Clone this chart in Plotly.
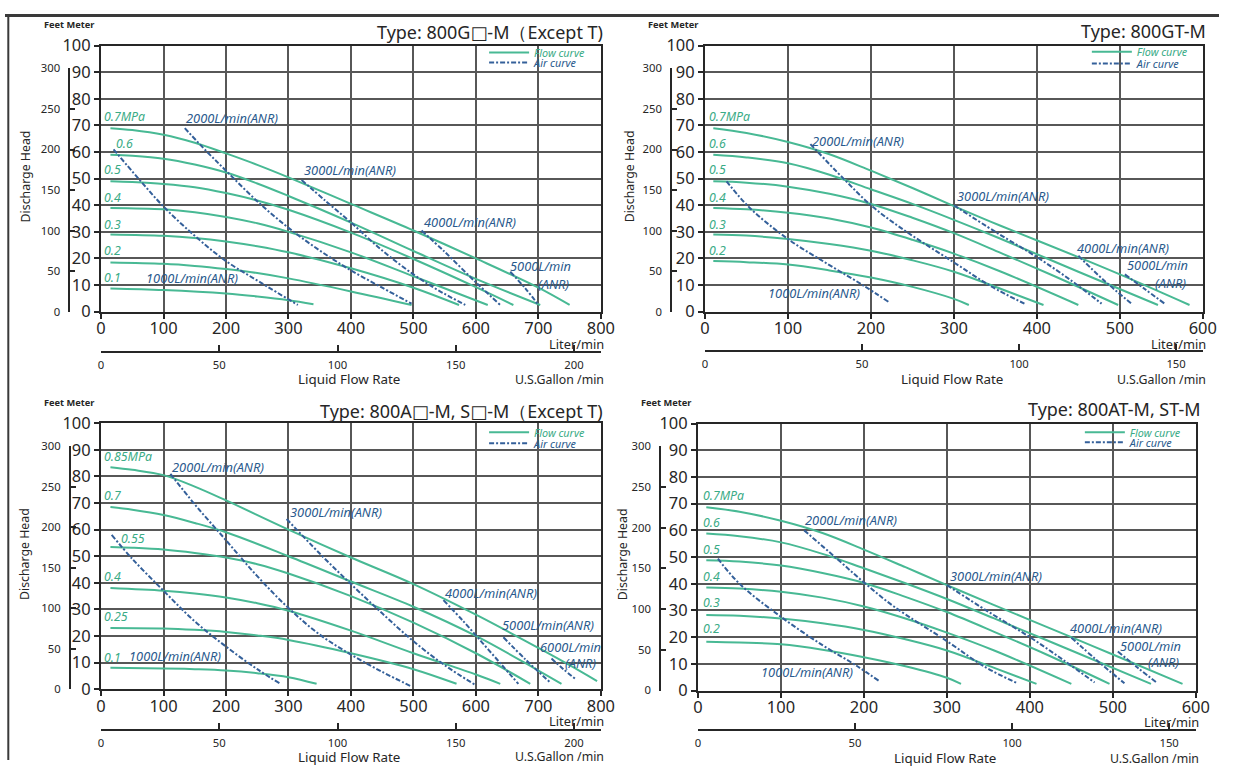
import plotly.graph_objects as go

W, H = 1233, 771
L_PER_GAL = 3.78541
M_TO_FT = 3.28084

# ======================= DATA =======================
# ---- Panel 1: Type: 800G□-M (Except T) ----
p1_title = "Type: 800G□-M（Except T)"
p1_x_ticks = [0, 100, 200, 300, 400, 500, 600, 700, 800]
p1_gal_ticks = [0, 50, 100, 150, 200]
p1_flow_names = ["0.7MPa", "0.6", "0.5", "0.4", "0.3", "0.2", "0.1"]
p1_flow_L = [
    [15, 50, 100, 150, 200, 250, 300, 400, 500, 600, 700, 750],
    [15, 50, 100, 150, 200, 250, 300, 400, 500, 600, 703],
    [15, 50, 100, 150, 200, 250, 300, 400, 500, 600, 660],
    [15, 100, 150, 200, 250, 300, 400, 500, 619],
    [15, 100, 150, 200, 250, 300, 400, 500, 573],
    [15, 100, 150, 200, 250, 300, 400, 497],
    [15, 100, 200, 250, 300, 340],
]
p1_flow_H = [
    [69, 68.3, 66.5, 63.5, 59.5, 55.2, 50.5, 40.5, 30.5, 20, 9, 2.5],
    [59, 58.6, 57.5, 55.3, 52.3, 48.2, 43.5, 33.5, 22.8, 12.3, 2.5],
    [49, 48.7, 48, 46.8, 44.6, 41.8, 38.3, 29.7, 19.8, 9.2, 2.5],
    [39, 38.5, 37.4, 35.6, 33.2, 30, 22.3, 13.3, 2.5],
    [29, 28.5, 27.7, 26.4, 24.6, 22.3, 16.3, 9, 2.5],
    [18.5, 18, 17.2, 16, 14.5, 12.5, 7.6, 2.5],
    [8.7, 8.1, 6.8, 5.7, 4.3, 2.8],
]
p1_air_names = ["1000L/min(ANR)", "2000L/min(ANR)", "3000L/min(ANR)", "4000L/min(ANR)", "5000L/min", "(ANR)"]
p1_air_L = [
    [20, 60, 100, 150, 200, 255, 315],
    [134, 170, 200, 250, 300, 350, 400, 450, 497],
    [321, 360, 400, 450, 500, 540, 583],
    [513, 550, 600, 639],
    [655, 680, 700],
]
p1_air_H = [
    [61, 50, 39.5, 28.5, 19, 11, 2.5],
    [69, 60, 53, 41.5, 31.5, 23, 15.5, 9, 3],
    [49.5, 41.5, 33.5, 23, 14, 8, 2.5],
    [30.5, 22.5, 11, 2.5],
    [15, 8.5, 2.5],
]

# ---- Panel 2: Type: 800GT-M ----
p2_title = "Type: 800GT-M"
p2_x_ticks = [0, 100, 200, 300, 400, 500, 600]
p2_gal_ticks = [0, 50, 100, 150]
p2_flow_names = ["0.7MPa", "0.6", "0.5", "0.4", "0.3", "0.2"]
p2_flow_L = [
    [10, 50, 100, 150, 200, 250, 300, 357, 450, 500, 584],
    [10, 50, 100, 150, 200, 250, 300, 357, 450, 546],
    [10, 50, 100, 150, 200, 250, 300, 357, 420, 498],
    [10, 50, 100, 150, 200, 250, 300, 357, 450],
    [10, 50, 100, 150, 200, 250, 300, 357, 408],
    [10, 50, 100, 150, 200, 250, 300, 318],
]
p2_flow_H = [
    [69, 67.2, 63.8, 59.2, 53, 46.5, 39.7, 32.2, 20.5, 14, 2.5],
    [59, 58, 55.8, 51.5, 46, 40.5, 34.5, 27.3, 15, 2.5],
    [49, 48.5, 47, 44.3, 40.5, 35.3, 29.5, 22, 13.5, 2.5],
    [39, 38.5, 37.2, 35, 31.6, 27, 21.8, 15, 2.5],
    [29, 28.6, 27.3, 25.4, 22.9, 19.3, 15, 8.5, 2.5],
    [19, 18.6, 17.7, 15.5, 12.8, 9.3, 4.8, 2.5],
]
p2_air_names = ["1000L/min(ANR)", "2000L/min(ANR)", "3000L/min(ANR)", "4000L/min(ANR)", "5000L/min", "(ANR)"]
p2_air_L = [
    [26, 54, 100, 150, 190, 221],
    [127, 167, 200, 236, 300, 345, 385],
    [300, 350, 400, 440, 478],
    [450, 480, 514],
    [506, 530, 554],
]
p2_air_H = [
    [49, 39, 27.3, 17.5, 10, 3.7],
    [63, 50, 40, 31.5, 18.5, 9.5, 3],
    [40, 30, 20.5, 12, 3],
    [21, 12, 3],
    [14, 8.5, 3],
]

# ---- Panel 3: Type: 800A□-M, S□-M (Except T) ----
p3_title = "Type: 800A□-M, S□-M（Except T)"
p3_x_ticks = [0, 100, 200, 300, 400, 500, 600, 700, 800]
p3_gal_ticks = [0, 50, 100, 150, 200]
p3_flow_names = ["0.85MPa", "0.7", "0.55", "0.4", "0.25", "0.1"]
p3_flow_L = [
    [15, 50, 100, 150, 200, 300, 400, 500, 600, 700, 750, 794],
    [15, 50, 100, 150, 200, 300, 400, 500, 600, 700, 737],
    [15, 50, 100, 150, 200, 250, 300, 400, 500, 600, 687],
    [15, 100, 150, 200, 250, 300, 400, 500, 600, 639],
    [15, 100, 150, 200, 250, 300, 400, 500, 569],
    [15, 100, 150, 200, 250, 300, 345],
]
p3_flow_H = [
    [83.5, 82.5, 80.5, 76.2, 71, 60, 49.5, 39.5, 28, 15.5, 9, 3],
    [68.5, 67.5, 65.5, 62.5, 59, 50, 40.5, 31, 20, 7, 2],
    [53.5, 53.2, 52.5, 51.2, 49.5, 47, 43.5, 35, 25, 13.5, 2],
    [38, 37, 36, 34.5, 32.3, 29.5, 22, 13.5, 5.5, 2],
    [23, 22.8, 22.3, 21.5, 20.2, 18.5, 13.5, 7.5, 2],
    [8, 7.8, 7.5, 7, 6, 4.5, 2],
]
p3_air_names = ["1000L/min(ANR)", "2000L/min(ANR)", "3000L/min(ANR)", "4000L/min(ANR)",
                "5000L/min(ANR)", "6000L/min", "(ANR)"]
p3_air_L = [
    [17, 50, 100, 150, 200, 250, 287],
    [111, 150, 200, 250, 300, 350, 400, 450, 497],
    [297, 350, 400, 450, 500, 550, 599],
    [548, 580, 610, 640, 668],
    [644, 680, 719],
    [721, 740, 761],
]
p3_air_H = [
    [58, 49, 37, 25.5, 16, 7.5, 2],
    [81, 69.5, 56, 42.5, 30.5, 20.5, 13, 6.5, 1],
    [64, 51, 39.5, 28.5, 18, 9, 1.6],
    [33.5, 25.5, 17.5, 9.5, 2],
    [19.5, 11, 2.5],
    [11.5, 7.5, 3.5],
]

# ---- Panel 4: Type: 800AT-M, ST-M ----
p4_title = "Type: 800AT-M, ST-M"
p4_x_ticks = [0, 100, 200, 300, 400, 500, 600]
p4_gal_ticks = [0, 50, 100, 150]
p4_flow_names = ["0.7MPa", "0.6", "0.5", "0.4", "0.3", "0.2"]
p4_flow_L = [
    [10, 50, 100, 150, 200, 250, 300, 357, 450, 500, 584],
    [10, 50, 100, 150, 200, 250, 300, 357, 450, 546],
    [10, 50, 100, 150, 200, 250, 300, 357, 420, 496],
    [10, 50, 100, 150, 200, 250, 300, 357, 450],
    [10, 50, 100, 150, 200, 250, 300, 357, 408],
    [10, 50, 100, 150, 200, 250, 300, 317],
]
p4_flow_H = [
    [68.7, 67, 63.6, 59, 52.8, 46.2, 39.5, 32, 20, 13.5, 2.5],
    [58.8, 57.8, 55.5, 51.2, 45.8, 40.2, 34.3, 27, 15, 2.5],
    [48.8, 48.3, 46.8, 44, 40.3, 35.1, 29.4, 22, 13.5, 2.5],
    [38.6, 38.2, 37, 34.8, 31.5, 27, 21.7, 15, 2.5],
    [28.3, 28, 27, 25.2, 22.7, 19.2, 15, 8.5, 2.5],
    [18.3, 18, 17.3, 15.3, 12.5, 9.1, 4.8, 2.5],
]
p4_air_names = ["1000L/min(ANR)", "2000L/min(ANR)", "3000L/min(ANR)", "4000L/min(ANR)", "5000L/min", "(ANR)"]
p4_air_L = [
    [24, 50, 100, 150, 190, 219],
    [128, 167, 200, 236, 300, 345, 385],
    [300, 350, 400, 440, 478],
    [450, 480, 514],
    [506, 530, 554],
]
p4_air_H = [
    [49.4, 40, 27.6, 17, 9.5, 3.4],
    [60, 49.5, 40.5, 31.5, 18.5, 9, 2.7],
    [39.5, 29.5, 20, 11.5, 3],
    [19.8, 11.5, 2.7],
    [14.6, 8.5, 2.7],
]

# ======================= LABEL PLACEMENT (data coords) =======================
p1_flow_lbl_pos = [(1, 73.4), (20, 63.4), (1, 53.4), (1, 42.8), (1, 32.8), (1, 22.8), (1, 12.8)]
p1_air_lbl_pos = [(68, 12.8, "left"), (132, 72.8, "left"), (321, 53.4, "left"),
                  (513, 33.8, "left"), (652, 17.1, "left"), (753, 10.5, "right")]
p2_flow_lbl_pos = [(3, 73.4), (3, 63.4), (3, 53.4), (3, 42.8), (3, 32.8), (3, 22.8)]
p2_air_lbl_pos = [(74, 7.1, "left"), (126, 64.3, "left"), (301, 43.4, "left"),
                  (446, 24, "left"), (506, 17.4, "left"), (582, 10.9, "right")]
p3_flow_lbl_pos = [(1, 87.5), (1, 72.9), (28, 56.6), (1, 42.3), (1, 27.3), (1, 12)]
p3_air_lbl_pos = [(41, 12.3, "left"), (111, 83.5, "left"), (300, 66.6, "left"),
                  (548, 36, "left"), (639, 24.1, "left"), (700, 16, "left"), (796, 9.8, "right")]
p4_flow_lbl_pos = [(3, 73.1), (3, 63.1), (3, 52.8), (3, 42.8), (3, 32.9), (3, 23.3)]
p4_air_lbl_pos = [(74, 7.1, "left"), (126, 64, "left"), (301, 42.8, "left"),
                  (446, 23.3, "left"), (506, 16.7, "left"), (582, 10.5, "right")]

# ======================= STYLE / GEOMETRY =======================
FONT = "Noto Sans, DejaVu Sans, Liberation Sans, sans-serif"
GREEN = "#48b994"
GREEN_TXT = "#3aab86"
BLUE = "#34609a"
BLUE_TXT = "#2a5a8d"
GRID = "#575757"
INK = "#262626"

# the photographed page maps figure px -> picture px as  p = C0 + S * f ; geometry below is
# given in picture pixels and converted back to figure paper fractions.
CX0, CSX = 4.7, 0.985
CY0, CSY = 10.2, 0.973

panels = [
    dict(x0=100.8, x1=600.8, yt=44.0, yb=310.7, xmax=800, feet_x=69, gal_y=350.7,
         title=p1_title, title_r=605, title_y=30, leg=(484, 50.7, 60.7),
         xt=p1_x_ticks, gt=p1_gal_ticks,
         fL=p1_flow_L, fH=p1_flow_H, fn=p1_flow_names, fpos=p1_flow_lbl_pos,
         aL=p1_air_L, aH=p1_air_H, an=p1_air_names, apos=p1_air_lbl_pos),
    dict(x0=705.0, x1=1203.0, yt=44.0, yb=310.7, xmax=600, feet_x=671, gal_y=350.0,
         title=p2_title, title_r=1208, title_y=29, leg=(1087, 50.0, 61.7),
         xt=p2_x_ticks, gt=p2_gal_ticks,
         fL=p2_flow_L, fH=p2_flow_H, fn=p2_flow_names, fpos=p2_flow_lbl_pos,
         aL=p2_air_L, aH=p2_air_H, an=p2_air_names, apos=p2_air_lbl_pos),
    dict(x0=100.8, x1=600.8, yt=422.7, yb=689.3, xmax=800, feet_x=69.5, gal_y=730.0,
         title=p3_title, title_r=605, title_y=410.5, leg=(484, 431.7, 442.7),
         xt=p3_x_ticks, gt=p3_gal_ticks,
         fL=p3_flow_L, fH=p3_flow_H, fn=p3_flow_names, fpos=p3_flow_lbl_pos,
         aL=p3_air_L, aH=p3_air_H, an=p3_air_names, apos=p3_air_lbl_pos),
    dict(x0=698.0, x1=1196.0, yt=423.0, yb=690.7, xmax=600, feet_x=660, gal_y=730.0,
         title=p4_title, title_r=1203, title_y=408.5, leg=(1080, 431.7, 441.7),
         xt=p4_x_ticks, gt=p4_gal_ticks,
         fL=p4_flow_L, fH=p4_flow_H, fn=p4_flow_names, fpos=p4_flow_lbl_pos,
         aL=p4_air_L, aH=p4_air_H, an=p4_air_names, apos=p4_air_lbl_pos),
]


def px(xp):
    return ((xp - CX0) / CSX) / W


def py(yp):
    return 1 - ((yp - CY0) / CSY) / H


def fsz(v):
    return v / CSY


fig = go.Figure()
layout = {}
annotations = []
y_ticks = list(range(0, 101, 10))
ft_ticks = [0, 50, 100, 150, 200, 250, 300]

for i, p in enumerate(panels):
    s = "" if i == 0 else str(i + 1)
    xs, ys = "x" + s, "y" + s
    fs = str(i + 5)
    leg_f = "legend" if i == 0 else "legend" + str(2 * i + 1)
    leg_a = "legend" + str(2 * i + 2)

    xdom = [px(p["x0"]), px(p["x1"])]
    ydom = [py(p["yb"]), py(p["yt"])]

    axis_common = dict(showgrid=True, gridcolor=GRID, gridwidth=1.9, showline=True, mirror=True,
                       linecolor=INK, linewidth=2.2, ticks="outside", ticklen=5, tickwidth=1.8,
                       tickcolor=INK, zeroline=False, fixedrange=True,
                       tickfont=dict(family=FONT, size=fsz(16), color=INK))
    layout["xaxis" + s] = dict(domain=xdom, range=[0, p["xmax"]], anchor=ys,
                               tickvals=p["xt"], ticklabelstandoff=-4, **axis_common)
    layout["yaxis" + s] = dict(domain=ydom, range=[0, 100], anchor=xs,
                               tickvals=y_ticks, **axis_common)

    # feet axis (bracket 0..300 ft)
    frac = 300.0 / (100 * M_TO_FT)
    layout["yaxis" + fs] = dict(domain=[ydom[0], ydom[0] + (ydom[1] - ydom[0]) * frac],
                                range=[0, 300], anchor="free", position=px(p["feet_x"]),
                                tickvals=ft_ticks, ticks="inside", ticklen=5, tickwidth=1.5,
                                tickcolor=INK, showline=True, linecolor=INK, linewidth=1.6,
                                showgrid=False, zeroline=False, fixedrange=True,
                                ticklabelstandoff=6,
                                tickfont=dict(family=FONT, size=fsz(11), color=INK))
    # gallon axis
    layout["xaxis" + fs] = dict(domain=xdom, range=[0, p["xmax"] / L_PER_GAL], anchor="free",
                                position=py(p["gal_y"]), tickvals=p["gt"], ticks="inside",
                                ticklen=6, tickwidth=1.5, tickcolor=INK, showline=True,
                                linecolor=INK, linewidth=1.6, showgrid=False, zeroline=False,
                                fixedrange=True, ticklabelstandoff=3,
                                tickfont=dict(family=FONT, size=fsz(11), color=INK))
    fig.add_trace(go.Scatter(x=[None], y=[None], xaxis="x" + fs, yaxis="y" + fs,
                             mode="markers", showlegend=False, hoverinfo="skip"))

    # flow curves
    for k, (Ls, Hs) in enumerate(zip(p["fL"], p["fH"])):
        fig.add_trace(go.Scatter(x=Ls, y=Hs, xaxis=xs, yaxis=ys, mode="lines",
                                 line=dict(color=GREEN, width=2, shape="spline", smoothing=1.0),
                                 name="<i>Flow curve</i>", showlegend=(k == 0), legend=leg_f,
                                 hoverinfo="skip"))
    # air curves
    for k, (Ls, Hs) in enumerate(zip(p["aL"], p["aH"])):
        fig.add_trace(go.Scatter(x=Ls, y=Hs, xaxis=xs, yaxis=ys, mode="lines",
                                 line=dict(color=BLUE, width=2, dash="5px,2px,2px,2px",
                                           shape="spline", smoothing=1.0),
                                 name="<i>Air curve</i>", showlegend=(k == 0), legend=leg_a,
                                 hoverinfo="skip"))

    # legends (one entry each)
    for lid, yy, col in ((leg_f, p["leg"][1], GREEN_TXT), (leg_a, p["leg"][2], BLUE_TXT)):
        layout[lid] = dict(x=px(p["leg"][0]), y=py(yy - 14.5), xanchor="left", yanchor="top",
                           bgcolor="rgba(0,0,0,0)", borderwidth=0, itemwidth=40,
                           font=dict(family=FONT, size=fsz(10.5), color=col))

    # curve labels
    for name, (lx, ly) in zip(p["fn"], p["fpos"]):
        annotations.append(dict(x=lx, y=ly, xref=xs, yref=ys, text="<i>" + name + "</i>",
                                showarrow=False, xanchor="left", yanchor="middle",
                                font=dict(family=FONT, size=fsz(12), color=GREEN_TXT)))
    for name, (lx, ly, anc) in zip(p["an"], p["apos"]):
        annotations.append(dict(x=lx, y=ly, xref=xs, yref=ys, text="<i>" + name + "</i>",
                                showarrow=False, xanchor=anc, yanchor="middle",
                                font=dict(family=FONT, size=fsz(12.5), color=BLUE_TXT)))

    # titles and axis texts
    annotations.append(dict(x=px(p["title_r"]), y=py(p["title_y"]), xref="paper", yref="paper",
                            text=p["title"], showarrow=False, xanchor="right", yanchor="middle",
                            font=dict(family=FONT, size=fsz(17.5), color=INK)))
    annotations.append(dict(x=px(p["x0"] - 4), y=py(p["yt"] - 21), xref="paper", yref="paper",
                            text="<b>Feet Meter</b>", showarrow=False, xanchor="right",
                            yanchor="middle", font=dict(family=FONT, size=fsz(9), color=INK)))
    annotations.append(dict(x=px(p["x0"] - 76), y=py(p["yt"] + 131), xref="paper", yref="paper",
                            text="Discharge Head", textangle=-90, showarrow=False,
                            xanchor="center", yanchor="middle",
                            font=dict(family=FONT, size=fsz(12), color=INK)))
    annotations.append(dict(x=px(p["x1"] + 5), y=py(p["yb"] + 32), xref="paper", yref="paper",
                            text="Liter/min", showarrow=False, xanchor="right", yanchor="middle",
                            font=dict(family=FONT, size=fsz(12.5), color=INK)))
    annotations.append(dict(x=px((p["x0"] + p["x1"]) / 2 - 2), y=py(p["yb"] + 68), xref="paper",
                            yref="paper", text="Liquid Flow Rate", showarrow=False,
                            xanchor="center", yanchor="middle",
                            font=dict(family=FONT, size=fsz(13), color=INK)))
    annotations.append(dict(x=px(p["x1"] + 5), y=py(p["yb"] + 68), xref="paper", yref="paper",
                            text="U.S.Gallon /min", showarrow=False, xanchor="right",
                            yanchor="middle", font=dict(family=FONT, size=fsz(12), color=INK)))

TOP_LINE_Y = 1 - 3.5 / H
shapes = [
    dict(type="line", xref="paper", yref="paper", x0=0, x1=1, y0=TOP_LINE_Y, y1=TOP_LINE_Y,
         line=dict(color="#3a3a3a", width=3)),
    dict(type="line", xref="paper", yref="paper", x0=px(8), x1=px(8), y0=TOP_LINE_Y, y1=0,
         line=dict(color="#3a3a3a", width=2)),
]

fig.update_layout(
    width=W, height=H, autosize=False,
    margin=dict(l=0, r=0, t=0, b=0),
    paper_bgcolor="white", plot_bgcolor="rgba(0,0,0,0)",
    font=dict(family=FONT, color=INK),
    annotations=annotations, shapes=shapes,
    **layout,
)

fig.write_html(
    "out.html",
    config={"displayModeBar": False},
    post_script="document.body.style.margin='0px';document.body.style.overflow='hidden';",
)
